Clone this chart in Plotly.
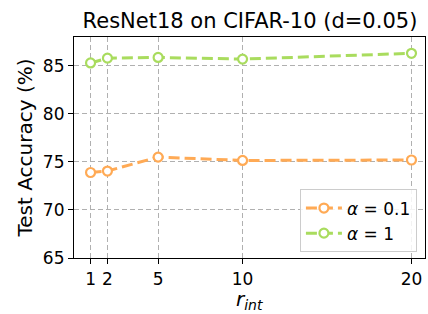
import plotly.graph_objects as go

r_int = [1, 2, 5, 10, 20]
acc_alpha_01 = [73.9, 74.05, 75.5, 75.15, 75.2]
acc_alpha_1 = [85.3, 85.8, 85.87, 85.7, 86.3]
x_ticks = [1, 2, 5, 10, 20]
y_ticks = [65, 70, 75, 80, 85]

orange = "#FFAA55"
green = "#A9DC5E"

fig = go.Figure()
for name, ys, c in [("<i>α</i> = 0.1", acc_alpha_01, orange), ("<i>α</i> = 1", acc_alpha_1, green)]:
    fig.add_trace(go.Scatter(
        x=r_int, y=ys, name=name, mode="lines+markers",
        line=dict(color=c, width=3, dash="11px,5px"),
        marker=dict(symbol="circle", size=9, color="white", line=dict(width=2.2, color=c)),
    ))

axis_common = dict(
    showline=True, linecolor="black", linewidth=1.2, mirror=True,
    ticks="outside", ticklen=5, tickcolor="black",
    showgrid=True, gridcolor="#b0b0b0", griddash="5px,3px", gridwidth=1,
    zeroline=False, tickfont=dict(size=17, color="black"), automargin=False,
)
fig.update_xaxes(range=[0.02, 20.8], tickvals=x_ticks, ticktext=[str(v) for v in x_ticks],
                 **axis_common)
fig.update_yaxes(range=[65, 88], tickvals=y_ticks,
                 title=dict(text="Test Accuracy (%)", font=dict(size=20, color="black"), standoff=4),
                 **axis_common)

fig.add_annotation(text="<i>r</i><sub><i>int</i></sub>", xref="paper", yref="paper",
                   x=0.5, y=-0.19, xanchor="center", yanchor="middle", showarrow=False,
                   font=dict(size=20, color="black"))

fig.update_layout(
    width=428, height=314,
    margin=dict(l=74, r=3, t=37, b=56),
    paper_bgcolor="white", plot_bgcolor="white",
    font=dict(family="DejaVu Sans", color="black"),
    title=dict(text="ResNet18 on CIFAR-10 (d=0.05)", x=0.584, xanchor="center", y=0.933, yanchor="middle",
               font=dict(size=21), automargin=False),
    legend=dict(x=0.977, y=0.025, xanchor="right", yanchor="bottom",
                bgcolor="rgba(255,255,255,0.85)", bordercolor="#cccccc", borderwidth=1,
                font=dict(size=17), tracegroupgap=0, itemwidth=36),
    showlegend=True,
)

fig.write_html("out.html", config={"displayModeBar": False},
               post_script="document.body.style.margin='0';document.body.style.padding='0';")
